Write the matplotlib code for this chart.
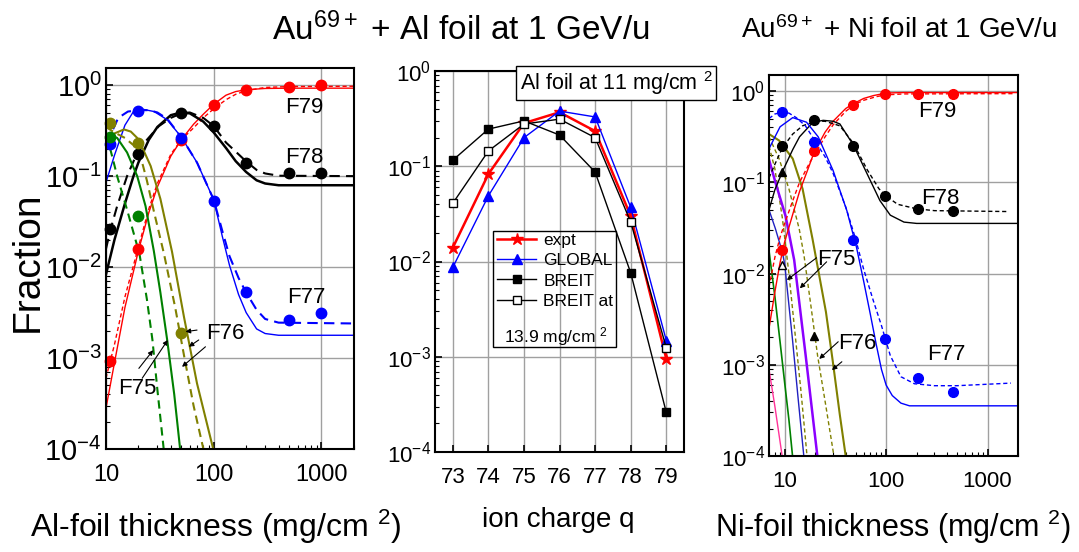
import matplotlib
matplotlib.use('Agg')
import matplotlib.pyplot as plt
import matplotlib.ticker as mticker
from matplotlib.patches import Rectangle

plt.rcParams['font.family'] = ['Liberation Sans', 'DejaVu Sans']
plt.rcParams['mathtext.fontset'] = 'custom'
plt.rcParams['mathtext.rm'] = 'Liberation Sans'
plt.rcParams['mathtext.it'] = 'Liberation Sans:italic'
plt.rcParams['mathtext.bf'] = 'Liberation Sans:bold'

# ---------------- Al foil panel (left) ----------------
al_pts_x = [11, 20, 50, 100, 200, 500, 1000]
al_f79_pts = [9.3e-4, 0.0158, 0.25, 0.60, 0.88, 0.96, 1.0]
al_f78_pts = [0.026, 0.177, 0.50, 0.36, 0.14, 0.109, 0.109]
al_f77_pts = [0.225, 0.52, 0.26, 0.053, 0.0053, 0.0026, 0.0031]
al_f76_pts_x = [11, 20, 50]
al_f76_pts = [0.38, 0.23, 0.0019]
al_f75_pts_x = [11, 20]
al_f75_pts = [0.27, 0.036]

al_f79_solid_x = [10, 12, 15, 20, 25, 30, 40, 50, 65, 80, 100, 130, 160, 200, 300, 500, 2000]
al_f79_solid_y = [2.8e-4, 8.9e-4, 3.6e-3, 0.0151, 0.0398, 0.0759, 0.166, 0.251, 0.372, 0.479,
                  0.617, 0.776, 0.851, 0.891, 0.92, 0.927, 0.927]
al_f79_dash_x = [10, 12, 15, 20, 25, 30, 40, 50, 65, 80, 100, 130, 160, 200, 300, 500, 2000]
al_f79_dash_y = [6.0e-4, 1.41e-3, 4.7e-3, 0.0166, 0.0437, 0.0832, 0.174, 0.251, 0.339, 0.437,
                 0.550, 0.692, 0.794, 0.871, 0.944, 0.966, 0.973]
al_f78_solid_x = [10, 12, 15, 18, 20, 25, 30, 40, 50, 60, 80, 100, 130, 160, 200, 250, 300, 400, 2000]
al_f78_solid_y = [8.3e-3, 0.020, 0.050, 0.100, 0.141, 0.251, 0.347, 0.468, 0.501, 0.490, 0.398,
                  0.302, 0.204, 0.146, 0.111, 0.090, 0.083, 0.0794, 0.0794]
al_f78_dash_x = [10, 11, 12.7, 15.7, 19.5, 24, 31, 40, 50, 60, 80, 100, 130, 160, 200, 250, 300, 400, 2000]
al_f78_dash_y = [0.0158, 0.0257, 0.0468, 0.100, 0.180, 0.251, 0.355, 0.437, 0.490, 0.501, 0.437,
                 0.355, 0.234, 0.186, 0.145, 0.117, 0.107, 0.101, 0.100]
al_f77_solid_x = [10, 12, 15, 18, 22, 28, 37, 50, 70, 100, 120, 140, 170, 200, 250, 300, 400, 2000]
al_f77_solid_y = [0.0851, 0.170, 0.363, 0.513, 0.543, 0.513, 0.417, 0.269, 0.141, 0.055, 0.0219,
                  0.0105, 5.0e-3, 3.16e-3, 2.09e-3, 1.86e-3, 1.78e-3, 1.78e-3]
al_f77_dash_x = [10, 11, 13, 16, 20, 25, 30, 37, 50, 70, 100, 120, 140, 170, 200, 250, 300, 400, 2000]
al_f77_dash_y = [0.224, 0.282, 0.437, 0.513, 0.531, 0.531, 0.501, 0.427, 0.269, 0.141, 0.055,
                 0.0251, 0.0132, 7.6e-3, 5.25e-3, 3.39e-3, 2.69e-3, 2.45e-3, 2.40e-3]
al_f76_solid_x = [10, 12, 14.7, 17, 19.5, 22, 26, 32, 41, 53, 70, 100]
al_f76_solid_y = [0.214, 0.295, 0.326, 0.309, 0.263, 0.200, 0.129, 0.0562, 0.0148, 2.82e-3, 5.25e-4, 9.5e-5]
al_f76_dash_x = [10, 12, 15, 18, 20, 22, 24, 28, 31, 34.5, 44, 53, 65, 81]
al_f76_dash_y = [0.347, 0.302, 0.263, 0.219, 0.182, 0.132, 0.0891, 0.0398, 0.024, 0.0141,
                 3.55e-3, 1.07e-3, 3.0e-4, 9.5e-5]
al_f75_solid_x = [10, 11, 12.7, 15.7, 19.5, 23.3, 27.8, 32, 37, 43, 49]
al_f75_solid_y = [0.288, 0.282, 0.263, 0.182, 0.100, 0.0468, 0.0151, 5.25e-3, 1.58e-3, 4.0e-4, 9.5e-5]
al_f75_dash_x = [10, 10.5, 11.5, 12.7, 15.7, 18, 20.5, 24, 27, 30, 34.5]
al_f75_dash_y = [0.28, 0.24, 0.16, 0.10, 0.0427, 0.024, 0.0138, 4.4e-3, 1.58e-3, 4.5e-4, 9.5e-5]

# ---------------- charge-state panel (middle) ----------------
charges = [73, 74, 75, 76, 77, 78, 79]
expt = [0.014, 0.083, 0.284, 0.37, 0.234, 0.030, 0.00095]
global_calc = [0.0087, 0.049, 0.20, 0.38, 0.33, 0.037, 0.00148]
breit = [0.116, 0.246, 0.30, 0.213, 0.087, 0.0076, 0.00026]
breit_139 = [0.041, 0.145, 0.278, 0.313, 0.20, 0.026, 0.00124]

# ---------------- Ni foil panel (right) ----------------
ni_pts_x = [9.5, 19.5, 47.5, 97, 205, 460]
ni_f79_pts = [0.018, 0.22, 0.71, 0.94, 0.94, 0.94]
ni_f78_pts = [0.25, 0.48, 0.25, 0.071, 0.051, 0.048]
ni_f77_pts = [0.59, 0.28, 0.0235, 0.0019, 7.1e-4, 5.0e-4]
ni_tri_fill_x = [9.5, 19.5]
ni_tri_fill = [0.13, 2.05e-3]
ni_tri_open_x = [9.5]
ni_tri_open = [0.0123]

ni_f79_solid_x = [7, 8, 9, 10, 12, 14, 17, 19.5, 25, 30, 40, 47, 60, 75, 100, 150, 2000]
ni_f79_solid_y = [2.5e-3, 6.3e-3, 0.0132, 0.0224, 0.0447, 0.0794, 0.141, 0.214, 0.355, 0.468,
                  0.646, 0.724, 0.832, 0.895, 0.955, 0.966, 0.966]
ni_f79_dash_x = [7, 8, 9, 10, 12, 14, 17.7, 20, 25, 30, 40, 50, 60, 80, 100, 150, 1800]
ni_f79_dash_y = [7.1e-3, 0.0151, 0.0251, 0.0355, 0.063, 0.1, 0.166, 0.209, 0.316, 0.427,
                 0.603, 0.724, 0.794, 0.871, 0.912, 0.933, 0.94]
ni_f78_solid_x = [7, 8, 9.6, 12, 14, 19, 24, 30, 35, 47.5, 65, 87, 110, 150, 200, 2000]
ni_f78_solid_y = [0.050, 0.083, 0.135, 0.229, 0.316, 0.457, 0.479, 0.468, 0.437, 0.257, 0.124,
                  0.063, 0.0437, 0.0367, 0.0355, 0.0355]
ni_f78_dash_x = [7, 8, 9.5, 12, 15, 20, 25, 35, 47.5, 65, 85, 100, 130, 200, 300, 1600]
ni_f78_dash_y = [0.112, 0.158, 0.240, 0.339, 0.417, 0.468, 0.468, 0.417, 0.269, 0.138, 0.0851,
                 0.0708, 0.0575, 0.0513, 0.049, 0.0479]
ni_f77_solid_x = [7, 9, 12, 16.4, 21.4, 30, 41, 51, 60, 70, 80, 90, 100, 115, 140, 170, 2000]
ni_f77_solid_y = [0.234, 0.407, 0.513, 0.457, 0.316, 0.135, 0.049, 0.0195, 8.3e-3, 3.55e-3,
                  1.66e-3, 8.9e-4, 6.0e-4, 4.6e-4, 3.8e-4, 3.55e-4, 3.55e-4]
ni_f77_dash_x = [7, 8, 9.5, 11, 13, 16, 19.5, 25, 30, 40, 50, 60, 75, 90, 110, 140, 190, 300, 500, 1700]
ni_f77_dash_y = [0.501, 0.562, 0.589, 0.575, 0.513, 0.417, 0.295, 0.191, 0.126, 0.0537, 0.024,
                 0.0112, 5.0e-3, 2.69e-3, 1.26e-3, 7.4e-4, 6.2e-4, 5.9e-4, 5.9e-4, 6.3e-4]
ni_f76_solid_x = [7, 8.8, 12, 15, 18.8, 20.3, 25.5, 29.7, 35, 40.2]
ni_f76_solid_y = [0.339, 0.288, 0.182, 0.0851, 0.024, 0.0151, 3.8e-3, 1.12e-3, 2.8e-4, 9.5e-5]
ni_f76_dash_x = [7, 8.8, 11, 13.9, 15.5, 18, 21.1, 25, 30.8]
ni_f76_dash_y = [0.316, 0.182, 0.0851, 0.0309, 0.0158, 4.7e-3, 1.26e-3, 4.0e-4, 9.5e-5]
ni_f76b_dash_x = [7, 8, 9.5, 11, 12.5, 14.5, 16.6]
ni_f76b_dash_y = [0.25, 0.141, 0.040, 0.010, 2.5e-3, 5.0e-4, 1.0e-4]
ni_purple_x = [7, 8.1, 10.2, 12.4, 16.1, 21.1]
ni_purple_y = [0.178, 0.1, 0.0427, 0.0141, 1.26e-3, 9.5e-5]
ni_bluethin_x = [7, 8.1, 9.5, 10, 11.9, 13.5, 15.5]
ni_bluethin_y = [0.050, 0.031, 0.017, 0.0126, 1.95e-3, 4.5e-4, 9.5e-5]
ni_green_x = [7, 8, 9, 10, 11, 12]
ni_green_y = [0.0178, 5.6e-3, 1.78e-3, 6.3e-4, 2.5e-4, 9.5e-5]
ni_pink_x = [7, 8, 9.5]
ni_pink_y = [8.9e-4, 3.5e-4, 9.5e-5]

RED = '#ff0000'
BLUE = '#0000ff'
GREEN = '#008000'
OLIVE = '#808000'
PURPLE = '#8b00ff'
PINK = '#ff3399'
DBLUE = '#2020c0'

fig = plt.figure(figsize=(10.79, 5.52), dpi=100)
axL = fig.add_axes([0.0982, 0.1866, 0.2298, 0.690])
axM = fig.add_axes([0.4032, 0.1812, 0.2308, 0.690])
axR = fig.add_axes([0.7127, 0.1739, 0.2308, 0.690])


def style_log_axes(ax, xsize, ysize):
    ax.set_yscale('log')
    ax.grid(True, which='major', color='#a0a0a0', lw=1.0)
    ax.set_axisbelow(True)
    ax.tick_params(which='both', direction='in', top=False, right=False)
    ax.tick_params(which='major', length=5, width=1.2)
    ax.tick_params(which='minor', length=3, width=0.8)
    ax.tick_params(axis='x', which='major', labelsize=xsize, pad=11)
    ax.tick_params(axis='y', which='major', labelsize=ysize, pad=3)
    ax.yaxis.set_minor_locator(mticker.LogLocator(base=10, subs=range(2, 10), numticks=20))
    ax.yaxis.set_minor_formatter(mticker.NullFormatter())
    ax.yaxis.set_major_locator(mticker.LogLocator(base=10, numticks=20))
    for s in ax.spines.values():
        s.set_linewidth(1.5)


# ---- left ----
ax = axL
style_log_axes(ax, 17, 21)
ax.set_xscale('log')
ax.xaxis.set_minor_formatter(mticker.NullFormatter())
ax.xaxis.set_major_formatter(mticker.FuncFormatter(lambda v, p: '%d' % v))
ax.set_xlim(10, 2000)
ax.set_ylim(1e-4, 1.54)
ax.plot(al_f79_solid_x, al_f79_solid_y, color=RED, lw=1.0)
ax.plot(al_f79_dash_x, al_f79_dash_y, color=RED, lw=1.0, ls=(0, (3, 2)))
ax.plot(al_f78_solid_x, al_f78_solid_y, color='k', lw=1.8)
ax.plot(al_f78_dash_x, al_f78_dash_y, color='k', lw=1.5, ls=(0, (5, 3)))
ax.plot(al_f77_solid_x, al_f77_solid_y, color=BLUE, lw=1.0)
ax.plot(al_f77_dash_x, al_f77_dash_y, color=BLUE, lw=1.5, ls=(0, (5, 3)))
ax.plot(al_f76_solid_x, al_f76_solid_y, color=OLIVE, lw=1.5)
ax.plot(al_f76_dash_x, al_f76_dash_y, color=OLIVE, lw=1.5, ls=(0, (4, 2.5)))
ax.plot(al_f75_solid_x, al_f75_solid_y, color=GREEN, lw=1.5)
ax.plot(al_f75_dash_x, al_f75_dash_y, color=GREEN, lw=1.5, ls=(0, (4, 2.5)))
ms = 7.5
ax.plot(al_pts_x, al_f79_pts, 'o', color=RED, ms=ms, ls='none', clip_on=False)
ax.plot(al_pts_x, al_f78_pts, 'o', color='k', ms=ms, ls='none', clip_on=False)
ax.plot(al_pts_x, al_f77_pts, 'o', color=BLUE, ms=ms, ls='none', clip_on=False)
ax.plot(al_f76_pts_x, al_f76_pts, 'o', color=OLIVE, ms=ms, ls='none', clip_on=False)
ax.plot(al_f75_pts_x, al_f75_pts, 'o', color=GREEN, ms=ms, ls='none', clip_on=False)
fs_lab = 16
ax.text(697, 0.573, 'F79', fontsize=fs_lab, ha='center', va='center')
ax.text(697, 0.162, 'F78', fontsize=fs_lab, ha='center', va='center')
ax.text(726, 4.6e-3, 'F77', fontsize=fs_lab, ha='center', va='center')
ax.text(129, 1.88e-3, 'F76', fontsize=fs_lab, ha='center', va='center')
ax.text(19.4, 4.6e-4, 'F75', fontsize=fs_lab, ha='center', va='center')
arr = dict(arrowstyle='-|>', lw=0.8, color='k', mutation_scale=7, shrinkA=0, shrinkB=0)
for (x0, y0, x1, y1) in [(70, 2.03e-3, 54.7, 1.95e-3), (72.6, 1.58e-3, 58.7, 1.33e-3),
                         (83.8, 1.33e-3, 50.8, 8.0e-4), (20.2, 7.7e-4, 27.4, 1.22e-3),
                         (21.7, 6.0e-4, 37.5, 1.58e-3)]:
    ax.annotate('', xy=(x1, y1), xytext=(x0, y0), arrowprops=arr)

# ---- middle ----
ax = axM
style_log_axes(ax, 16, 16)
ax.set_xlim(72.5, 79.5)
ax.set_ylim(1e-4, 1.0)
ax.set_xticks(charges)
l1, = ax.plot(charges, expt, color=RED, lw=1.8, marker='*', ms=9, label='expt')
l2, = ax.plot(charges, global_calc, color=BLUE, lw=1.0, marker='^', ms=7.5, label='GLOBAL')
l3, = ax.plot(charges, breit, color='k', lw=1.0, marker='s', ms=6, label='BREIT')
l4, = ax.plot(charges, breit_139, color='k', lw=1.0, marker='s', ms=6, mfc='white', label='BREIT at')
leg = ax.legend(handles=[l1, l2, l3, l4], loc='upper left', bbox_to_anchor=(0.233, 0.585),
                frameon=False, fontsize=12.5, handlelength=2.3, handletextpad=0.4,
                labelspacing=0.3, borderaxespad=0, borderpad=0.2)
ax.add_patch(Rectangle((0.233, 0.276), 0.494, 0.304, transform=ax.transAxes, fill=False,
                       ec='k', lw=1.0, zorder=5))
ax.text(0.486, 0.302, '13.9 mg/cm $^{2}$', transform=ax.transAxes, fontsize=12.5,
        ha='center', va='center')

fig.text(0.5709, 0.8496, 'Al foil at 11 mg/cm $^{2}$', fontsize=15.5, ha='center', va='center',
         bbox=dict(boxstyle='square,pad=0.15', fc='white', ec='k', lw=1.0), zorder=10)

# ---- right ----
ax = axR
style_log_axes(ax, 16, 16)
ax.set_xscale('log')
ax.xaxis.set_minor_formatter(mticker.NullFormatter())
ax.xaxis.set_major_formatter(mticker.FuncFormatter(lambda v, p: '%d' % v))
ax.set_xlim(7, 2000)
ax.set_ylim(1e-4, 1.5)
ax.plot(ni_pink_x, ni_pink_y, color=PINK, lw=1.0)
ax.plot(ni_green_x, ni_green_y, color=GREEN, lw=1.2)
ax.plot(ni_bluethin_x, ni_bluethin_y, color=DBLUE, lw=1.0)
ax.plot(ni_f76b_dash_x, ni_f76b_dash_y, color=OLIVE, lw=1.0, ls=(0, (3, 2)))
ax.plot(ni_purple_x, ni_purple_y, color=PURPLE, lw=1.8)
ax.plot(ni_f76_dash_x, ni_f76_dash_y, color=OLIVE, lw=1.0, ls=(0, (3, 2)))
ax.plot(ni_f76_solid_x, ni_f76_solid_y, color=OLIVE, lw=1.5)
ax.plot(ni_f79_solid_x, ni_f79_solid_y, color=RED, lw=1.0)
ax.plot(ni_f79_dash_x, ni_f79_dash_y, color=RED, lw=1.0, ls=(0, (3, 2)))
ax.plot(ni_f78_solid_x, ni_f78_solid_y, color='k', lw=1.0)
ax.plot(ni_f78_dash_x, ni_f78_dash_y, color='k', lw=1.0, ls=(0, (3, 2)))
ax.plot(ni_f77_solid_x, ni_f77_solid_y, color=BLUE, lw=1.0)
ax.plot(ni_f77_dash_x, ni_f77_dash_y, color=BLUE, lw=1.0, ls=(0, (3, 2)))
ms = 7
ax.plot(ni_pts_x, ni_f79_pts, 'o', color=RED, ms=ms, ls='none')
ax.plot(ni_pts_x, ni_f78_pts, 'o', color='k', ms=ms, ls='none')
ax.plot(ni_pts_x, ni_f77_pts, 'o', color=BLUE, ms=ms, ls='none')
ax.plot(ni_tri_fill_x, ni_tri_fill, '^', color='k', ms=6, ls='none')
ax.plot(ni_tri_open_x, ni_tri_open, '^', color='k', mfc='white', ms=6, ls='none')
ax.text(318, 0.593, 'F79', fontsize=fs_lab, ha='center', va='center')
ax.text(343, 0.0667, 'F78', fontsize=fs_lab, ha='center', va='center')
ax.text(391, 1.31e-3, 'F77', fontsize=fs_lab, ha='center', va='center')
ax.text(52.2, 1.72e-3, 'F76', fontsize=fs_lab, ha='center', va='center')
ax.text(32.5, 0.0141, 'F75', fontsize=fs_lab, ha='center', va='center')
for (x0, y0, x1, y1) in [(20.6, 0.0149, 10.5, 8.5e-3), (25.9, 0.01346, 14.1, 6.9e-3),
                         (33.7, 1.79e-3, 21.9, 1.16e-3), (36.6, 1.08e-3, 29.2, 8.75e-4)]:
    ax.annotate('', xy=(x1, y1), xytext=(x0, y0), arrowprops=arr)

# ---- figure texts ----
fig.text(0.4273, 0.9457, 'Au$^{69+}$ + Al foil at 1 GeV/u', fontsize=24, ha='center', va='center')
fig.text(0.8332, 0.9457, 'Au$^{69+}$ + Ni foil at 1 GeV/u', fontsize=20, ha='center', va='center')
fig.text(0.2002, 0.0453, 'Al-foil thickness (mg/cm $^{2}$)', fontsize=23, ha='center', va='center')
fig.text(0.5171, 0.058, 'ion charge q', fontsize=20, ha='center', va='center')
fig.text(0.8276, 0.0453, 'Ni-foil thickness (mg/cm $^{2}$)', fontsize=22, ha='center', va='center')
fig.text(0.026, 0.525, 'Fraction', fontsize=28, ha='center', va='center', rotation=90)

fig.savefig('out.png', dpi=100)
